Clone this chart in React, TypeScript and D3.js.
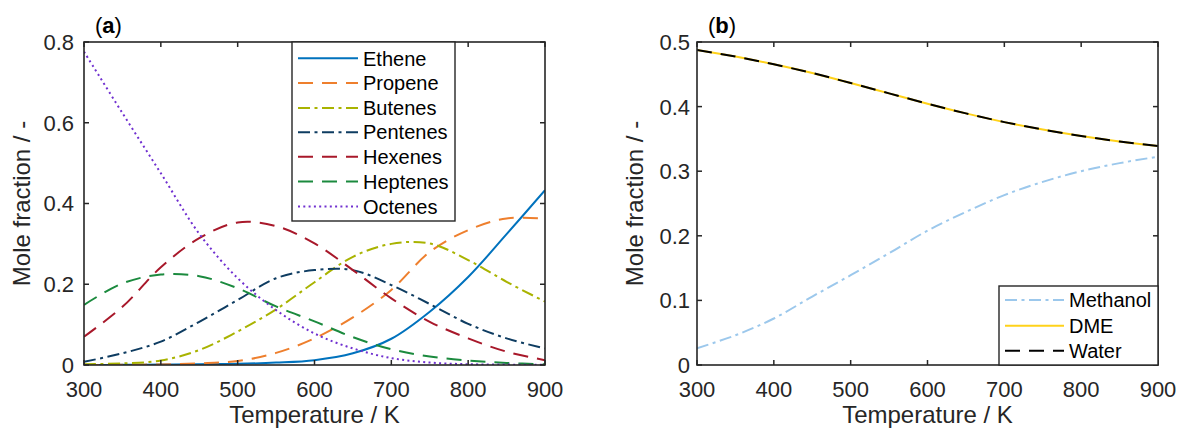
import React from "react";
import * as d3 from "d3";

const temps = [300, 350, 400, 450, 500, 550, 600, 650, 700, 750, 800, 850, 900];

const ethene = [0.0, 0.0005, 0.001, 0.002, 0.003, 0.006, 0.012, 0.029, 0.065, 0.132, 0.218, 0.324, 0.433];
const propene = [0.0, 0.0005, 0.0015, 0.004, 0.01, 0.03, 0.066, 0.118, 0.186, 0.28, 0.334, 0.363, 0.362];
const butenes = [0.002, 0.004, 0.011, 0.037, 0.083, 0.138, 0.205, 0.268, 0.3, 0.301, 0.26, 0.206, 0.157];
const pentenes = [0.008, 0.029, 0.058, 0.107, 0.161, 0.215, 0.235, 0.235, 0.198, 0.151, 0.102, 0.066, 0.041];
const hexenes = [0.07, 0.144, 0.242, 0.314, 0.353, 0.344, 0.301, 0.235, 0.165, 0.107, 0.066, 0.033, 0.012];
const heptenes = [0.149, 0.202, 0.224, 0.22, 0.19, 0.145, 0.108, 0.069, 0.039, 0.021, 0.011, 0.005, 0.002];
const octenes = [0.776, 0.624, 0.475, 0.325, 0.215, 0.136, 0.078, 0.041, 0.017, 0.006, 0.002, 0.001, 0.0005];

const methanol = [0.026, 0.046, 0.072, 0.106, 0.139, 0.173, 0.208, 0.237, 0.263, 0.2835, 0.3, 0.3125, 0.3225];
const dme = [0.4876, 0.4775, 0.4655, 0.452, 0.4365, 0.4205, 0.4045, 0.3895, 0.376, 0.3645, 0.3545, 0.346, 0.339];
const water = [0.4876, 0.4775, 0.4655, 0.452, 0.4365, 0.4205, 0.4045, 0.3895, 0.376, 0.3645, 0.3545, 0.346, 0.339];

const xTicks = [300, 400, 500, 600, 700, 800, 900];
const yTicksA = [0, 0.2, 0.4, 0.6, 0.8];
const yTicksB = [0, 0.1, 0.2, 0.3, 0.4, 0.5];

const SOLID = "none";
const DASHED = "15,9";
const DASHDOT = "12,4.5,3,4.5";
const DOTTED = "2,3.3";

const seriesA = [
  { name: "Ethene", values: ethene, color: "#0072BD", dash: SOLID },
  { name: "Propene", values: propene, color: "#EE7F2D", dash: DASHED },
  { name: "Butenes", values: butenes, color: "#A9B300", dash: DASHDOT },
  { name: "Pentenes", values: pentenes, color: "#0E3C61", dash: DASHDOT },
  { name: "Hexenes", values: hexenes, color: "#A8182A", dash: DASHED },
  { name: "Heptenes", values: heptenes, color: "#1B8A3E", dash: DASHED },
  { name: "Octenes", values: octenes, color: "#7030D0", dash: DOTTED },
];

const seriesB = [
  { name: "Methanol", values: methanol, color: "#9CC8EC", dash: DASHDOT },
  { name: "DME", values: dme, color: "#FFD21A", dash: SOLID },
  { name: "Water", values: water, color: "#000000", dash: DASHED },
];

const FONT = "'Liberation Sans', Arial, Helvetica, sans-serif";
const AX = "#262626";

type Series = { name: string; values: number[]; color: string; dash: string };

function Panel(props: {
  id: string;
  left: number;
  right: number;
  top: number;
  bottom: number;
  yMax: number;
  yTicks: number[];
  series: Series[];
  label: string;
  legend: { x0: number; x1: number; y0: number; y1: number; rows: number[]; lx0: number; lx1: number; tx: number };
  yTickOffset: number;
  ylabelX: number;
}) {
  const { id, left, right, top, bottom, yMax, yTicks, series, label, legend } = props;
  const x = d3.scaleLinear().domain([300, 900]).range([left, right]);
  const y = d3.scaleLinear().domain([0, yMax]).range([bottom, top]);
  const line = d3
    .line<number>()
    .x((_, i) => x(temps[i]))
    .y((d) => y(d))
    .curve(d3.curveCatmullRom.alpha(0.5));
  const tl = 5;
  return (
    <g>
      <defs>
        <clipPath id={"clip" + id}>
          <rect x={left} y={top} width={right - left} height={bottom - top} />
        </clipPath>
      </defs>
      <g clipPath={`url(#clip${id})`}>
        {series.map((s) => (
          <path
            key={s.name}
            d={line(s.values) || ""}
            fill="none"
            stroke={s.color}
            strokeWidth={2}
            strokeDasharray={s.dash}
          />
        ))}
      </g>
      {xTicks.map((t) => (
        <g key={"xt" + t}>
          <line x1={x(t)} x2={x(t)} y1={bottom} y2={bottom - tl} stroke={AX} strokeWidth={1.5} />
          <line x1={x(t)} x2={x(t)} y1={top} y2={top + tl} stroke={AX} strokeWidth={1.5} />
          <text x={x(t)} y={397} textAnchor="middle" fontFamily={FONT} fontSize={22} fill={AX}>
            {t}
          </text>
        </g>
      ))}
      {yTicks.map((t) => (
        <g key={"yt" + t}>
          <line x1={left} x2={left + tl} y1={y(t)} y2={y(t)} stroke={AX} strokeWidth={1.5} />
          <line x1={right} x2={right - tl} y1={y(t)} y2={y(t)} stroke={AX} strokeWidth={1.5} />
          <text
            x={left - props.yTickOffset}
            y={y(t)}
            dy="0.36em"
            textAnchor="end"
            fontFamily={FONT}
            fontSize={22}
            fill={AX}
          >
            {d3.format("~g")(t)}
          </text>
        </g>
      ))}
      <rect x={left} y={top} width={right - left} height={bottom - top} fill="none" stroke={AX} strokeWidth={1.6} />
      <rect
        x={legend.x0}
        y={legend.y0}
        width={legend.x1 - legend.x0}
        height={legend.y1 - legend.y0}
        fill="#fff"
        stroke={AX}
        strokeWidth={1.4}
      />
      {series.map((s, i) => (
        <g key={"lg" + s.name}>
          <line
            x1={legend.lx0}
            x2={legend.lx1}
            y1={legend.rows[i]}
            y2={legend.rows[i]}
            stroke={s.color}
            strokeWidth={2}
            strokeDasharray={s.dash}
          />
          <text x={legend.tx} y={legend.rows[i]} dy="0.36em" fontFamily={FONT} fontSize={20} fill="#000">
            {s.name}
          </text>
        </g>
      ))}
      <text x={left + 11} y={33} fontFamily={FONT} fontSize={22} fill="#000">
        (<tspan fontWeight="bold">{label}</tspan>)
      </text>
      <text x={(left + right) / 2} y={423} textAnchor="middle" fontFamily={FONT} fontSize={24} fill={AX}>
        Temperature / K
      </text>
      <text
        transform={`translate(${props.ylabelX},${(top + bottom) / 2}) rotate(-90)`}
        textAnchor="middle"
        fontFamily={FONT}
        fontSize={24}
        fill={AX}
      >
        Mole fraction / -
      </text>
    </g>
  );
}

export default function App() {
  return (
    <svg
      width={1179}
      height={430}
      style={{ position: "absolute", left: 0, top: 0, background: "#fff" }}
    >
      <rect x={0} y={0} width={1179} height={430} fill="#fff" />
      <Panel
        id="a"
        left={84}
        right={545}
        top={42}
        bottom={365}
        yMax={0.8}
        yTicks={yTicksA}
        series={seriesA}
        label="a"
        yTickOffset={10}
        ylabelX={30}
        legend={{
          x0: 292,
          x1: 455,
          y0: 42,
          y1: 221,
          rows: [58.3, 83.1, 107.9, 132.2, 156.8, 181.6, 206.4],
          lx0: 298,
          lx1: 358,
          tx: 363,
        }}
      />
      <Panel
        id="b"
        left={697}
        right={1158}
        top={42}
        bottom={365}
        yMax={0.5}
        yTicks={yTicksB}
        series={seriesB}
        label="b"
        yTickOffset={7}
        ylabelX={643}
        legend={{
          x0: 999,
          x1: 1158,
          y0: 286,
          y1: 365,
          rows: [300, 325.7, 350.7],
          lx0: 1005,
          lx1: 1064,
          tx: 1069,
        }}
      />
    </svg>
  );
}
